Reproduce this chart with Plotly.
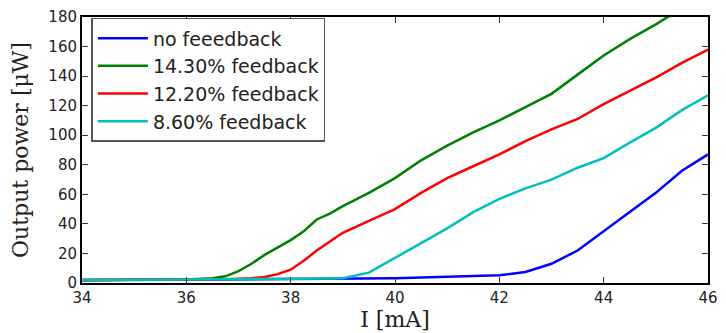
import plotly.graph_objects as go

current = [34, 34.5, 35, 35.5, 36, 36.5, 36.75, 37, 37.25, 37.5, 37.75, 38, 38.25, 38.5, 38.75, 39,
           39.5, 40, 40.5, 41, 41.5, 42, 42.5, 43, 43.5, 44, 44.5, 45, 45.5, 46]

no_fb = [1.8, 1.9, 2.0, 2.0, 2.1, 2.1, 2.2, 2.2, 2.2, 2.3, 2.3, 2.4, 2.4, 2.5, 2.5, 2.6,
         2.8, 3.2, 3.7, 4.2, 4.6, 5.3, 7.4, 13, 22, 35, 48, 61, 76, 87]
fb_143 = [2.0, 2.0, 2.2, 2.3, 2.4, 3.2, 4.5, 8, 13, 19, 24, 29, 35, 43, 47, 52,
          61, 71, 83, 93, 102, 110, 119, 128, 141, 154, 165, 175, 186, 196]
fb_122 = [2.0, 2.0, 2.2, 2.3, 2.4, 2.5, 2.6, 2.8, 3.2, 4, 6, 9, 15, 22, 28, 34,
          42, 50, 61, 71, 79, 87, 96, 104, 111, 121, 130, 139, 149, 158]
fb_86 = [2.0, 2.0, 2.2, 2.3, 2.4, 2.5, 2.5, 2.6, 2.6, 2.7, 2.7, 2.8, 2.8, 2.9, 3.0, 3.2,
         7, 17, 27, 37, 48, 57, 64, 70, 78, 84.5, 95, 105, 117, 127]

series = [
    ("no feeedback", no_fb, "#0000ff"),
    ("14.30% feedback", fb_143, "#008000"),
    ("12.20% feedback", fb_122, "#ff0000"),
    ("8.60% feedback", fb_86, "#00bfbf"),
]

fig = go.Figure()
for i, (name, vals, col) in enumerate(series):
    fig.add_trace(go.Scatter(x=current, y=vals, mode="lines", name=name,
                             line=dict(color=col, width=2.5)))

axis_common = dict(showgrid=False, zeroline=False, showline=True, linecolor="black",
                   linewidth=2, mirror="ticks", ticks="inside", ticklen=6,
                   tickcolor="#333", tickwidth=1,
                   tickfont=dict(family="DejaVu Sans", size=15, color="#222"))

fig.update_layout(
    width=726, height=333,
    margin=dict(l=82, r=8, t=10, b=50),
    paper_bgcolor="white", plot_bgcolor="white",
    xaxis=dict(range=[34, 46], tickvals=[34, 36, 38, 40, 42, 44, 46],
               title=dict(text="I [mA]", font=dict(family="DejaVu Serif", size=22, color="#222"),
                          standoff=0),
               **axis_common),
    yaxis=dict(range=[0, 180], tickvals=list(range(0, 181, 20)),
               title=dict(text="Output power [μW]", font=dict(family="DejaVu Serif", size=22, color="#222"),
                          standoff=14),
               **axis_common),
    legend=dict(x=0.015, y=0.997, xanchor="left", yanchor="top",
                bgcolor="white", bordercolor="#555", borderwidth=1.5,
                font=dict(family="DejaVu Sans", size=19, color="#222"),
                itemwidth=50),
    showlegend=True,
)

fig.write_html("out.html")
